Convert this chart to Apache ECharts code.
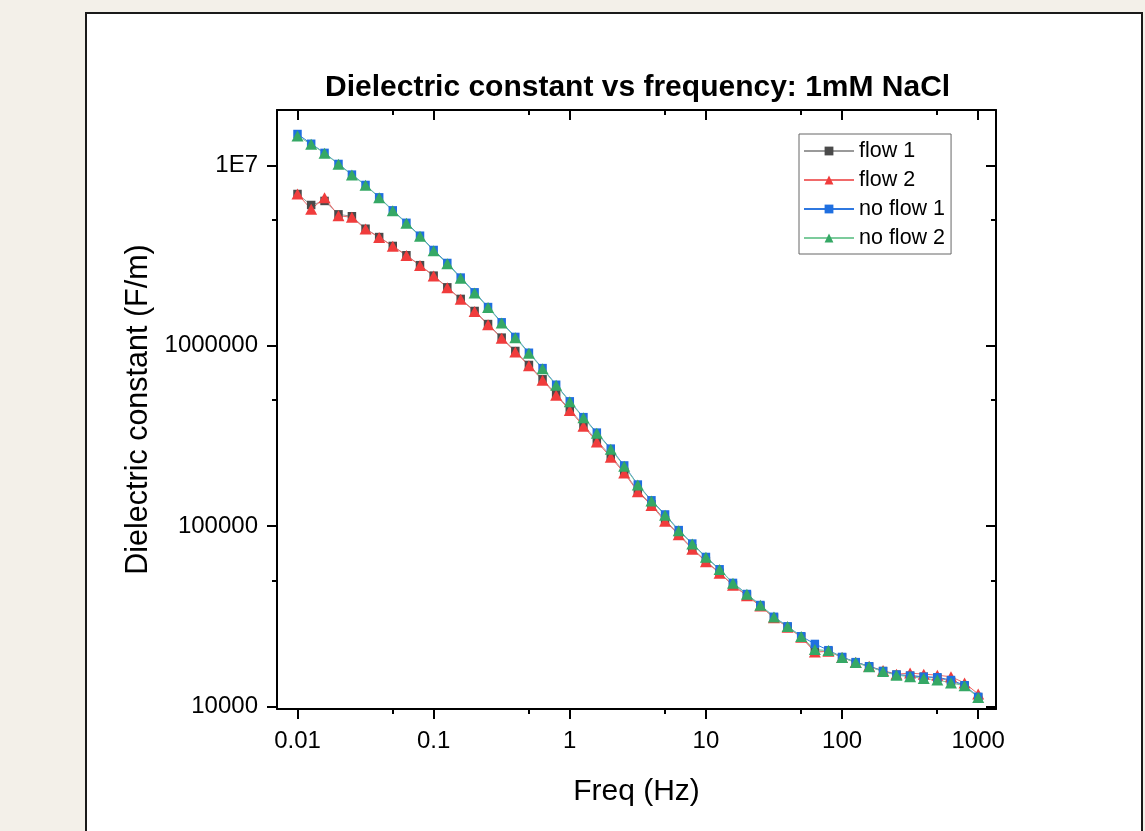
<!DOCTYPE html>
<html><head><meta charset="utf-8">
<script src="https://cdn.jsdelivr.net/npm/echarts@6/dist/echarts.min.js"></script>
<style>
html,body{margin:0;padding:0;background:#f3f0e9;overflow:hidden;}
#frame{position:absolute;left:85px;top:12px;width:1054px;height:900px;background:#fff;border:2px solid #1a1a1a;}
#chart{position:absolute;left:0;top:0;width:1145px;height:831px;}
</style>
</head><body><div id="frame"></div><div id="chart"></div>
<script>
// ---- data ----
const freqHz = [
  0.01, 0.0126, 0.0158, 0.02, 0.0251, 0.0316, 0.0398, 0.0501, 0.0631, 0.0794,
  0.1, 0.126, 0.158, 0.2, 0.251, 0.316, 0.398, 0.501, 0.631, 0.794,
  1, 1.26, 1.58, 2, 2.51, 3.16, 3.98, 5.01, 6.31, 7.94,
  10, 12.6, 15.8, 20, 25.1, 31.6, 39.8, 50.1, 63.1, 79.4,
  100, 126, 158, 200, 251, 316, 398, 501, 631, 794,
  1000
];
const flow1 = [
  6.95e6, 6.04e6, 6.36e6, 5.36e6, 5.23e6, 4.46e6, 4.01e6, 3.58e6, 3.18e6, 2.80e6,
  2.45e6, 2.11e6, 1.82e6, 1.56e6, 1.32e6, 1.11e6, 9.36e5, 7.83e5, 6.52e5, 5.38e5,
  4.44e5, 3.64e5, 2.98e5, 2.45e5, 2.00e5, 1.57e5, 1.32e5, 1.08e5, 9.04e4, 7.53e4,
  6.40e4, 5.51e4, 4.71e4, 4.12e4, 3.61e4, 3.11e4, 2.76e4, 2.43e4, 2.03e4, 2.03e4,
  1.87e4, 1.75e4, 1.66e4, 1.57e4, 1.50e4, 1.48e4, 1.46e4, 1.44e4, 1.38e4, 1.30e4,
  1.12e4
];
const flow2 = [
  6.95e6, 5.72e6, 6.63e6, 5.27e6, 5.16e6, 4.44e6, 3.99e6, 3.57e6, 3.17e6, 2.79e6,
  2.44e6, 2.10e6, 1.81e6, 1.55e6, 1.31e6, 1.10e6, 9.25e5, 7.75e5, 6.45e5, 5.32e5,
  4.38e5, 3.58e5, 2.93e5, 2.41e5, 1.97e5, 1.55e5, 1.30e5, 1.065e5, 8.95e4, 7.45e4,
  6.35e4, 5.48e4, 4.70e4, 4.11e4, 3.60e4, 3.10e4, 2.75e4, 2.42e4, 2.00e4, 2.02e4,
  1.87e4, 1.76e4, 1.67e4, 1.58e4, 1.51e4, 1.53e4, 1.51e4, 1.49e4, 1.46e4, 1.35e4,
  1.17e4
];
const noFlow1 = [
  1.495e7, 1.32e7, 1.175e7, 1.02e7, 8.9e6, 7.8e6, 6.66e6, 5.64e6, 4.81e6, 4.08e6,
  3.40e6, 2.88e6, 2.39e6, 1.98e6, 1.64e6, 1.35e6, 1.12e6, 9.15e5, 7.52e5, 6.08e5,
  4.92e5, 4.02e5, 3.30e5, 2.69e5, 2.17e5, 1.70e5, 1.39e5, 1.16e5, 9.50e4, 8.00e4,
  6.74e4, 5.76e4, 4.84e4, 4.20e4, 3.65e4, 3.14e4, 2.78e4, 2.45e4, 2.22e4, 2.05e4,
  1.88e4, 1.76e4, 1.67e4, 1.57e4, 1.50e4, 1.48e4, 1.46e4, 1.45e4, 1.40e4, 1.31e4,
  1.13e4
];
const noFlow2 = [
  1.458e7, 1.311e7, 1.169e7, 1.016e7, 8.86e6, 7.77e6, 6.63e6, 5.61e6, 4.78e6, 4.05e6,
  3.37e6, 2.85e6, 2.37e6, 1.96e6, 1.63e6, 1.34e6, 1.11e6, 9.09e5, 7.46e5, 6.04e5,
  4.89e5, 3.99e5, 3.27e5, 2.67e5, 2.15e5, 1.69e5, 1.38e5, 1.15e5, 9.43e4, 7.96e4,
  6.71e4, 5.74e4, 4.82e4, 4.19e4, 3.64e4, 3.13e4, 2.77e4, 2.44e4, 2.07e4, 2.04e4,
  1.87e4, 1.75e4, 1.66e4, 1.56e4, 1.49e4, 1.46e4, 1.43e4, 1.40e4, 1.35e4, 1.30e4,
  1.12e4
];
const seriesNames = ['flow 1', 'flow 2', 'no flow 1', 'no flow 2'];
const xTickValues = [0.01, 0.1, 1, 10, 100, 1000];
const xTickLabels = ['0.01', '0.1', '1', '10', '100', '1000'];
const xMinorValues = [0.05, 0.5, 5, 50, 500];
const yTickValues = [1e4, 1e5, 1e6, 1e7];
const yTickLabels = ['10000', '100000', '1000000', '1E7'];
const yMinorValues = [5e4, 5e5, 5e6];
const xRange = [0.00707, 1351];
const yRange = [9673, 2.032e7];

// ---- chart ----
const lg = Math.log10;
const FONT = '"Liberation Sans", Arial, sans-serif';

function fmt(vals, labels) {
  return function (v) {
    const i = vals.findIndex(t => Math.abs(lg(t) - v) < 1e-6);
    return i >= 0 ? labels[i] : '';
  };
}

function axis(kind, pos, tickVals, len, inside, main) {
  const rng = kind === 'x' ? xRange : yRange;
  const a = {
    type: 'value', position: pos, min: lg(rng[0]), max: lg(rng[1]),
    splitLine: { show: false },
    axisLine: { show: main !== null, onZero: false, lineStyle: { color: '#000', width: 2 } },
    axisTick: { show: true, inside: inside, length: len, customValues: tickVals.map(lg),
      lineStyle: { color: '#000', width: 2 } },
    axisLabel: { show: false },
    silent: true
  };
  if (main) Object.assign(a, main);
  return a;
}

const xMain = {
  name: 'Freq (Hz)', nameLocation: 'middle', nameGap: 68,
  nameTextStyle: { fontFamily: FONT, fontSize: 30, color: '#000' },
  axisLabel: { show: true, customValues: xTickValues.map(lg), formatter: fmt(xTickValues, xTickLabels),
    fontFamily: FONT, fontSize: 24, color: '#000', margin: 20 }
};
const yMain = {
  name: 'Dielectric constant (F/m)', nameLocation: 'middle', nameGap: 117,
  nameTextStyle: { fontFamily: FONT, fontSize: 30.5, color: '#000' },
  axisLabel: { show: true, customValues: yTickValues.map(lg), formatter: fmt(yTickValues, yTickLabels),
    fontFamily: FONT, fontSize: 24, color: '#000', margin: 19 }
};

function mk(name, vals, sym, size, color, lineColor) {
  return {
    name: name, type: 'line', xAxisIndex: 0, yAxisIndex: 0,
    data: freqHz.map((f, i) => [lg(f), lg(vals[i])]),
    symbol: sym, symbolSize: size, showSymbol: true,
    itemStyle: { color: color },
    lineStyle: { color: lineColor, width: 1 },
    emphasis: { disabled: true },
    animation: false
  };
}

const chart = echarts.init(document.getElementById('chart'), null, { renderer: 'canvas' });
chart.setOption({
  animation: false,
  backgroundColor: 'transparent',
  title: {
    text: 'Dielectric constant vs frequency: 1mM NaCl',
    left: 325, top: 73, padding: 0,
    textStyle: { fontFamily: FONT, fontSize: 30, fontWeight: 'bold', color: '#000' }
  },
  legend: {
    orient: 'vertical', left: 799, top: 134,
    padding: [6, 6, 5, 4], itemGap: 7, itemWidth: 50, itemHeight: 11,
    borderColor: '#666', borderWidth: 1, backgroundColor: '#fff',
    textStyle: { fontFamily: FONT, fontSize: 21.5, color: '#000', lineHeight: 22 },
    data: seriesNames
  },
  grid: { left: 277, right: 149, top: 110, bottom: 122, containLabel: false },
  xAxis: [
    axis('x', 'bottom', xTickValues, 10, false, xMain),
    axis('x', 'bottom', xMinorValues, 5, false, null),
    axis('x', 'top', xTickValues, 10, true, {}),
    axis('x', 'top', xMinorValues, 5, true, null)
  ],
  yAxis: [
    axis('y', 'left', yTickValues, 10, false, yMain),
    axis('y', 'left', yMinorValues, 5, false, null),
    axis('y', 'right', yTickValues, 10, true, {}),
    axis('y', 'right', yMinorValues, 5, true, null)
  ],
  series: [
    mk(seriesNames[0], flow1, 'rect', 8.5, '#4a4a4a', '#9a9a9a'),
    mk(seriesNames[1], flow2, 'triangle', [12, 11], '#f03c3c', '#f06a6a'),
    mk(seriesNames[2], noFlow1, 'rect', 8.5, '#1f6fe0', '#2f78e0'),
    mk(seriesNames[3], noFlow2, 'triangle', [12, 11], '#35a865', '#7ccb9c')
  ]
});
</script>
</body></html>
